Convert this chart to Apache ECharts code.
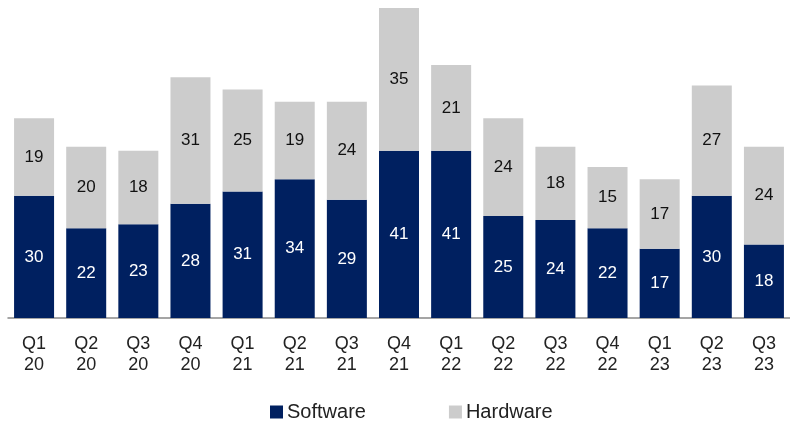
<!DOCTYPE html>
<html><head><meta charset="utf-8">
<script src="https://cdn.jsdelivr.net/npm/echarts@6/dist/echarts.min.js"></script>
<style>html,body{margin:0;padding:0;background:#fff}#c{width:790px;height:422px}</style>
</head><body><div id="c"></div>
<script>
const categories = ['Q1\n20','Q2\n20','Q3\n20','Q4\n20','Q1\n21','Q2\n21','Q3\n21','Q4\n21','Q1\n22','Q2\n22','Q3\n22','Q4\n22','Q1\n23','Q2\n23','Q3\n23'];
const software = [30,22,23,28,31,34,29,41,41,25,24,22,17,30,18];
const hardware = [19,20,18,31,25,19,24,35,21,24,18,15,17,27,24];
const font = 'Liberation Sans, Arial, sans-serif';
const chart = echarts.init(document.getElementById('c'));
chart.setOption({
  animation:false,
  textStyle:{fontFamily:font},
  grid:{left:8, top:8, width:786, height:310},
  legend:{top:397, left:265, itemGap:83, itemWidth:13, itemHeight:13, icon:'rect',
    textStyle:{fontSize:20, color:'#222', fontFamily:font, padding:[0,0,0,-1]}, data:['Software','Hardware']},
  xAxis:{type:'category', data:categories,
    axisLine:{lineStyle:{color:'#888', width:1.5}},
    axisTick:{length:5, lineStyle:{color:'#888', width:1.5}},
    axisLabel:{fontSize:18, color:'#222', lineHeight:21, margin:16, interval:0, fontFamily:font}},
  yAxis:{type:'value', min:0, max:76, show:false, splitLine:{show:false}},
  series:[
    {name:'Software', type:'bar', stack:'a', data:software, barWidth:40,
     itemStyle:{color:'#002060'},
     label:{show:true, position:'inside', color:'#fff', fontSize:17, fontFamily:font}},
    {name:'Hardware', type:'bar', stack:'a', data:hardware, barWidth:40,
     itemStyle:{color:'#cccccc'},
     label:{show:true, position:'inside', color:'#111', fontSize:17, fontFamily:font}}
  ]
});
</script></body></html>
